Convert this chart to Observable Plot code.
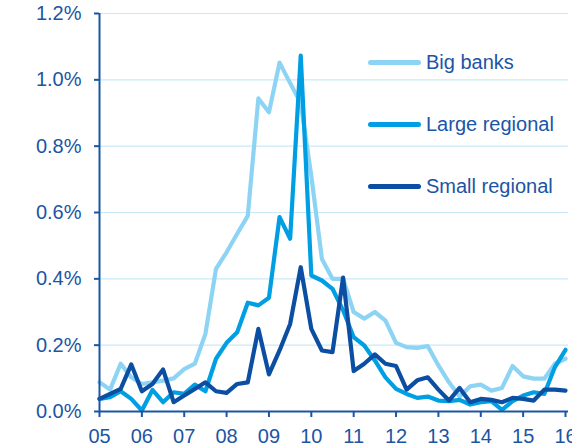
<!DOCTYPE html>
<html>
<head>
<meta charset="utf-8">
<script src="https://cdn.jsdelivr.net/npm/d3@7"></script>
<script src="https://cdn.jsdelivr.net/npm/@observablehq/plot@0.6"></script>
<style>
  html, body { margin: 0; padding: 0; background: #fff; }
  #wrap { position: relative; width: 572px; height: 446px; font-family: "Liberation Sans", Arial, sans-serif; }
  #legend { position: absolute; left: 368px; top: 0; }
  .item { position: absolute; display: flex; align-items: center; white-space: nowrap; font-size: 20px; color: #1b55a4; }
  .swatch { width: 53px; height: 5px; border-radius: 3px; margin-right: 5px; }
</style>
</head>
<body>
<div id="wrap"></div>
<script>
// Quarterly observations, 2005 Q1 .. 2016 Q1 (percent)
const startYear = 2005;
const bigBanks = [0.088,0.066,0.144,0.103,0.083,0.088,0.093,0.100,0.128,0.144,0.234,0.430,0.480,0.536,0.590,0.944,0.902,1.052,0.990,0.930,0.710,0.460,0.400,0.400,0.300,0.280,0.300,0.274,0.207,0.194,0.192,0.197,0.139,0.088,0.045,0.076,0.081,0.063,0.071,0.137,0.106,0.099,0.099,0.144,0.159];
const largeRegional = [0.038,0.043,0.061,0.038,0.003,0.065,0.028,0.058,0.053,0.081,0.061,0.159,0.207,0.239,0.328,0.320,0.343,0.586,0.521,1.073,0.410,0.395,0.370,0.305,0.224,0.199,0.154,0.103,0.068,0.053,0.041,0.045,0.033,0.031,0.035,0.021,0.028,0.031,0.005,0.031,0.048,0.058,0.053,0.134,0.186];
const smallRegional = [0.038,0.053,0.068,0.142,0.061,0.083,0.127,0.028,0.048,0.068,0.088,0.061,0.056,0.083,0.088,0.249,0.112,0.184,0.264,0.435,0.249,0.184,0.179,0.404,0.122,0.144,0.172,0.144,0.137,0.066,0.094,0.103,0.066,0.033,0.071,0.028,0.038,0.035,0.028,0.041,0.038,0.033,0.066,0.066,0.063];
const seriesNames = ["Big banks", "Large regional", "Small regional"];
const seriesColors = ["#8dd4f4", "#009fe3", "#0b4ea2"];
const yTicks = [0, 0.2, 0.4, 0.6, 0.8, 1.0, 1.2];
const xTicks = [2005,2006,2007,2008,2009,2010,2011,2012,2013,2014,2015,2016];

const axisColor = "#1b55a4";
const gridColor = "#c9e9f8";

const allSeries = [bigBanks, largeRegional, smallRegional];
const rows = allSeries.flatMap((vals, s) =>
  vals.map((v, k) => ({series: seriesNames[s], date: startYear + k / 4, value: v}))
);

const lineMarks = seriesNames.map((name, i) =>
  Plot.line(rows.filter(d => d.series === name), {
    x: "date", y: "value",
    stroke: seriesColors[i], strokeWidth: 4.2,
    strokeLinejoin: "round", strokeLinecap: "round"
  })
);

const chart = Plot.plot({
  width: 572,
  height: 446,
  marginLeft: 99,
  marginRight: 4,
  marginTop: 13,
  marginBottom: 35,
  style: {fontFamily: "'Liberation Sans', Arial, sans-serif", fontSize: "20px", color: axisColor, background: "#fff"},
  x: {domain: [2005, 2016], range: [99, 565]},
  y: {domain: [0, 1.2]},
  marks: [
    Plot.ruleY(yTicks.slice(1), {stroke: gridColor, strokeWidth: 1.2}),
    ...lineMarks,
    Plot.ruleY([0], {stroke: axisColor, strokeWidth: 2}),
    Plot.ruleX([2005], {stroke: axisColor, strokeWidth: 2}),
    Plot.axisY({ticks: yTicks, tickFormat: d => d.toFixed(1) + "%", tickSize: 5, tickPadding: 13, stroke: axisColor, strokeWidth: 2, fill: axisColor, fontSize: 20, label: null}),
    Plot.axisX({ticks: xTicks, tickFormat: d => String(d).slice(2), tickSize: 6, tickPadding: 11, stroke: axisColor, strokeWidth: 2, fill: axisColor, fontSize: 20, label: null})
  ]
});

const wrap = document.getElementById("wrap");
wrap.appendChild(chart);

// Legend (inside the plot area, top right)
const legend = document.createElement("div");
legend.id = "legend";
const legendTops = [62, 124, 186];
seriesNames.forEach((name, i) => {
  const item = document.createElement("div");
  item.className = "item";
  item.style.top = (legendTops[i] - 12) + "px";
  item.style.height = "24px";
  const sw = document.createElement("div");
  sw.className = "swatch";
  sw.style.background = seriesColors[i];
  const label = document.createElement("span");
  label.textContent = name;
  item.appendChild(sw);
  item.appendChild(label);
  legend.appendChild(item);
});
wrap.appendChild(legend);
</script>
</body>
</html>
